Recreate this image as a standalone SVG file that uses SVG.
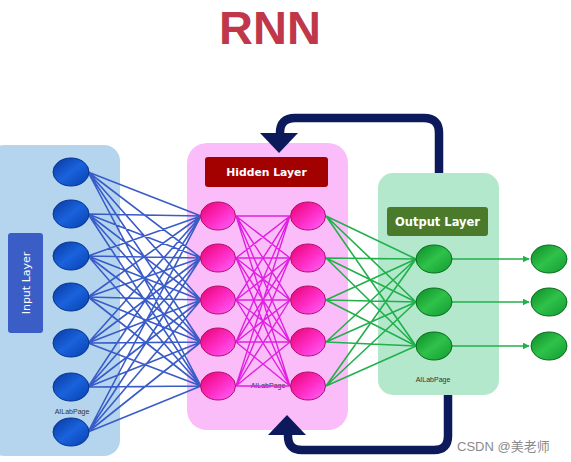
<svg xmlns="http://www.w3.org/2000/svg" width="571" height="462" viewBox="0 0 571 462">
<defs>
<style>
.lbl{font-family:"DejaVu Sans",sans-serif;font-weight:bold;fill:#fff;text-anchor:middle}
.wm{font-family:"Liberation Sans",Arial,sans-serif;font-size:7px;fill:#333;text-anchor:middle}
.blue{fill:url(#gb);stroke:#06348e;stroke-width:1}
.pink{fill:url(#gp);stroke:#b0106a;stroke-width:1}
.green{fill:url(#gg);stroke:#0a6a1e;stroke-width:1}
.fb{fill:none;stroke:#0c1a5c;stroke-width:8.5}
</style>
<linearGradient id="gb" x1="0" y1="0" x2="1" y2="1">
<stop offset="0" stop-color="#0838a0"/><stop offset="0.5" stop-color="#1a62dc"/><stop offset="1" stop-color="#0640b0"/>
</linearGradient>
<linearGradient id="gp" x1="0" y1="0" x2="1" y2="1">
<stop offset="0" stop-color="#e8006e"/><stop offset="0.55" stop-color="#ff2ec8"/><stop offset="1" stop-color="#ff66ff"/>
</linearGradient>
<linearGradient id="gg" x1="0" y1="0" x2="1" y2="1">
<stop offset="0" stop-color="#0a8a24"/><stop offset="0.5" stop-color="#2fc24a"/><stop offset="1" stop-color="#119a30"/>
</linearGradient>
<marker id="ah" viewBox="0 0 10 10" refX="9" refY="5" markerWidth="7" markerHeight="7" markerUnits="userSpaceOnUse" orient="auto">
<path d="M0,0 L10,5 L0,10 z" fill="#22b04b"/>
</marker>
</defs>
<rect width="571" height="462" fill="#fff"/>
<text x="270" y="44" text-anchor="middle" font-family="Liberation Sans,Arial,sans-serif" font-weight="bold" font-size="47" fill="#c0374a">RNN</text>

<g id="input-layer">
<rect x="-12" y="145" width="132" height="311" rx="16" fill="#b5d5ee"/>
<rect x="8" y="233" width="35" height="100" rx="3" fill="#3a5ec6"/>
<text transform="translate(30,283) rotate(-90)" font-family="DejaVu Sans,sans-serif" font-size="11" fill="#fff" text-anchor="middle">Input Layer</text>
<text class="wm" x="72" y="414">AILabPage</text>
</g>
<g id="hidden-layer">
<rect x="187" y="143" width="161" height="287" rx="20" fill="#fbbdf9"/>
<rect x="205" y="157" width="123" height="30" rx="3" fill="#a30000"/>
<text class="lbl" x="266.5" y="176" font-size="10.8">Hidden Layer</text>
<text class="wm" x="268" y="388">AILabPage</text>
</g>
<g id="output-layer">
<rect x="378" y="173" width="121" height="222" rx="15" fill="#b3e8cc"/>
<rect x="387" y="207" width="101" height="29" rx="3" fill="#4a7a2a"/>
<text class="lbl" x="437.5" y="226" font-size="11.5">Output Layer</text>
<text class="wm" x="433" y="382">AILabPage</text>
</g>

<g id="connectors">
<path fill="none" stroke="#3a5cc8" stroke-width="1.6" d="M88 172L201 216M88 172L201 258M88 172L201 300M88 172L201 342M88 172L201 386
M88 214L201 216M88 214L201 258M88 214L201 300M88 214L201 342M88 214L201 386
M88 256L201 216M88 256L201 258M88 256L201 300M88 256L201 342M88 256L201 386
M88 297L201 216M88 297L201 258M88 297L201 300M88 297L201 342M88 297L201 386
M88 343L201 216M88 343L201 258M88 343L201 300M88 343L201 342M88 343L201 386
M88 387L201 216M88 387L201 258M88 387L201 300M88 387L201 342M88 387L201 386
M88 432L201 216M88 432L201 258M88 432L201 300M88 432L201 342M88 432L201 386"/>
<path fill="none" stroke="#e020e0" stroke-width="1.4" d="M236 216L290 216M236 216L290 258M236 216L290 300M236 216L290 342M236 216L290 386
M236 258L290 216M236 258L290 258M236 258L290 300M236 258L290 342M236 258L290 386
M236 300L290 216M236 300L290 258M236 300L290 300M236 300L290 342M236 300L290 386
M236 342L290 216M236 342L290 258M236 342L290 300M236 342L290 342M236 342L290 386
M236 386L290 216M236 386L290 258M236 386L290 300M236 386L290 342M236 386L290 386"/>
<path fill="none" stroke="#22b04b" stroke-width="1.6" d="M326 216L416 259M326 216L416 302M326 216L416 346
M326 258L416 259M326 258L416 302M326 258L416 346
M326 300L416 259M326 300L416 302M326 300L416 346
M326 342L416 259M326 342L416 302M326 342L416 346
M326 386L416 259M326 386L416 302M326 386L416 346"/>
<g stroke="#22b04b" stroke-width="1.6" marker-end="url(#ah)">
<line x1="452" y1="259" x2="529" y2="259"/>
<line x1="452" y1="302" x2="529" y2="302"/>
<line x1="452" y1="346" x2="529" y2="346"/>
</g>
<path class="fb" d="M439 173V133Q439 118 424 118H295Q280 118 280 133V136"/>
<polygon points="260,133 298,133 279,153" fill="#0c1a5c"/>
<path class="fb" d="M448 395V436Q448 450 434 450H302Q288 450 288 436V433"/>
<polygon points="268,435 306,435 287,415" fill="#0c1a5c"/>
</g>

<g id="input-nodes">
<ellipse class="blue" cx="71" cy="172" rx="18" ry="14"/>
<ellipse class="blue" cx="71" cy="214" rx="18" ry="14"/>
<ellipse class="blue" cx="71" cy="256" rx="18" ry="14"/>
<ellipse class="blue" cx="71" cy="297" rx="18" ry="14"/>
<ellipse class="blue" cx="71" cy="343" rx="18" ry="14"/>
<ellipse class="blue" cx="71" cy="387" rx="18" ry="14"/>
<ellipse class="blue" cx="71" cy="432" rx="18" ry="14"/>
</g>
<g id="hidden-nodes">
<ellipse class="pink" cx="218" cy="216" rx="17.5" ry="14"/>
<ellipse class="pink" cx="218" cy="258" rx="17.5" ry="14"/>
<ellipse class="pink" cx="218" cy="300" rx="17.5" ry="14"/>
<ellipse class="pink" cx="218" cy="342" rx="17.5" ry="14"/>
<ellipse class="pink" cx="218" cy="386" rx="17.5" ry="14"/>
<ellipse class="pink" cx="308" cy="216" rx="17.5" ry="14"/>
<ellipse class="pink" cx="308" cy="258" rx="17.5" ry="14"/>
<ellipse class="pink" cx="308" cy="300" rx="17.5" ry="14"/>
<ellipse class="pink" cx="308" cy="342" rx="17.5" ry="14"/>
<ellipse class="pink" cx="308" cy="386" rx="17.5" ry="14"/>
</g>
<g id="output-nodes">
<ellipse class="green" cx="434" cy="259" rx="18" ry="14"/>
<ellipse class="green" cx="434" cy="302" rx="18" ry="14"/>
<ellipse class="green" cx="434" cy="346" rx="18" ry="14"/>
</g>
<g id="result-nodes">
<ellipse class="green" cx="549" cy="259" rx="18" ry="14"/>
<ellipse class="green" cx="549" cy="302" rx="18" ry="14"/>
<ellipse class="green" cx="549" cy="346" rx="18" ry="14"/>
</g>
<text x="457" y="451" font-family="Liberation Sans,Noto Sans CJK SC,sans-serif" font-size="13" fill="#8a8a8a">CSDN @美老师</text>
</svg>
